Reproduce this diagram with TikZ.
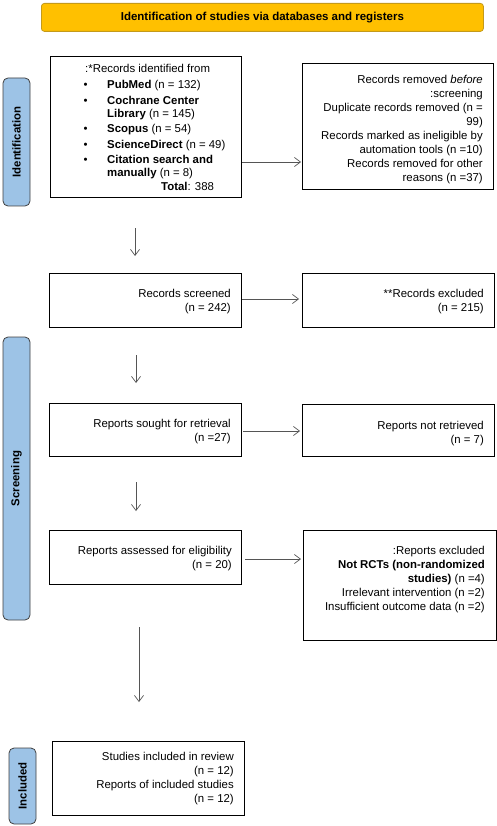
\documentclass[tikz,border=0pt]{standalone}
\usepackage{fontspec}
\setmainfont{Liberation Sans}
\usetikzlibrary{arrows.meta}
\definecolor{hdr}{HTML}{FFC000}
\definecolor{hdrb}{HTML}{C49A1A}
\definecolor{sidefill}{HTML}{9DC3E6}
\definecolor{sideb}{HTML}{404040}
\definecolor{arrc}{HTML}{555555}
\begin{document}
\begin{tikzpicture}[x=1pt,y=-1pt,
  box/.style={draw=black, line width=1pt, anchor=north west, inner sep=0pt},
  txt/.style={inner sep=0pt, anchor=north east, align=right, font=\fontsize{11.4}{14}\selectfont},
  ln/.style={inner sep=0pt, anchor=base west, font=\fontsize{11.4}{14}\selectfont},
  sidelab/.style={draw=sideb, fill=sidefill, rounded corners=5pt, line width=0.8pt, rotate=90, inner sep=0pt, font=\fontsize{11.4}{14}\selectfont\bfseries},
  conn/.style={draw=arrc, line width=0.7pt, -{Straight Barb[length=6pt,width=9pt]}}]
\useasboundingbox (0,0) rectangle (497,826);

% header
\node[draw=hdrb, fill=hdr, rounded corners=3pt, line width=0.8pt, minimum width=442pt, minimum height=28pt, anchor=north west, inner sep=0pt, font=\fontsize{11.5}{13}\selectfont\bfseries] (hdr) at (41,3) {Identification of studies via databases and registers};

% side labels
\node[sidelab, minimum width=128pt, minimum height=27pt] (sid1) at (16.5,142) {Identification};
\node[sidelab, minimum width=283pt, minimum height=27pt] (sid2) at (16.5,478.5) {Screening};
\node[sidelab, minimum width=76pt, minimum height=27pt] (sid3) at (22.5,786) {Included};

% boxes
\node[box, minimum width=191pt, minimum height=141pt] (rec) at (50,56) {};
\node[box, minimum width=191pt, minimum height=126pt] (rem) at (302,63) {};
\node[box, minimum width=192pt, minimum height=54pt] (scr) at (49,273) {};
\node[box, minimum width=192pt, minimum height=54pt] (exc) at (302,273) {};
\node[box, minimum width=192pt, minimum height=53pt] (sou) at (49,403) {};
\node[box, minimum width=192pt, minimum height=52pt] (ret) at (302,404) {};
\node[box, minimum width=192pt, minimum height=54pt] (ass) at (49,530) {};
\node[box, minimum width=193pt, minimum height=110pt] (rex) at (303,530) {};
\node[box, minimum width=192pt, minimum height=74pt] (inc) at (52,741) {};

% box 1 text
\node[ln] (r1) at (85,73) {:*Records identified from};
\node[ln] (b1) at (83.5,89) {•};
\node[ln] (b2) at (83.5,105) {•};
\node[ln] (b3) at (83.5,133) {•};
\node[ln] (b4) at (83.5,149) {•};
\node[ln] (b5) at (83.5,164) {•};
\node[ln] (r2) at (107,89) {\textbf{PubMed} (n = 132)};
\node[ln] (r3) at (107,105) {\textbf{Cochrane Center}};
\node[ln] (r4) at (107,118) {\textbf{Library} (n = 145)};
\node[ln] (r5) at (107,133) {\textbf{Scopus} (n = 54)};
\node[ln] (r6) at (107,149) {\textbf{ScienceDirect} (n = 49)};
\node[ln] (r7) at (107,164) {\textbf{Citation search and}};
\node[ln] (r8) at (107,177) {\textbf{manually} (n = 8)};
\node[ln] (r9) at (161,191) {\textbf{Total}: 388};

% other texts
\node[txt] (t2) at (483,75) {Records removed \textit{before}\\:screening\\Duplicate records removed (n =\\99)\\Records marked as ineligible by\\automation tools (n =10)\\Records removed for other\\reasons (n =37)};
\node[txt] (t3) at (231,289) {Records screened\\(n = 242)};
\node[txt] (t4) at (484,289) {**Records excluded\\(n = 215)};
\node[txt] (t5) at (231,419) {Reports sought for retrieval\\(n =27)};
\node[txt] (t6) at (484,421) {Reports not retrieved\\(n = 7)};
\node[txt] (t7) at (232,546) {Reports assessed for eligibility\\(n = 20)};
\node[txt] (t8) at (485,546) {:Reports excluded\\\textbf{Not RCTs (non-randomized}\\\textbf{studies)} (n =4)\\Irrelevant intervention (n =2)\\Insufficient outcome data (n =2)};
\node[txt] (t9) at (234,752) {Studies included in review\\(n = 12)\\Reports of included studies\\(n = 12)};

% connectors
\coordinate (d1a) at (135,228); \coordinate (d1b) at (135,256);
\coordinate (d2a) at (136,355); \coordinate (d2b) at (136,383);
\coordinate (d3a) at (136,482); \coordinate (d3b) at (136,511);
\coordinate (d4a) at (139,627); \coordinate (d4b) at (139,702);
\draw[conn] (d1a) -- (d1b);
\draw[conn] (d2a) -- (d2b);
\draw[conn] (d3a) -- (d3b);
\draw[conn] (d4a) -- (d4b);
\draw[conn] (rec.east |- 0,162) -- ([xshift=-1pt]rem.west |- 0,162);
\draw[conn] (scr.east |- 0,299) -- ([xshift=-3pt]exc.west |- 0,299);
\draw[conn] ([xshift=1pt]sou.east |- 0,431) -- ([xshift=-2pt]ret.west |- 0,431);
\draw[conn] ([xshift=3pt]ass.east |- 0,559) -- ([xshift=-2pt]rex.west |- 0,559);
\end{tikzpicture}
\end{document}
